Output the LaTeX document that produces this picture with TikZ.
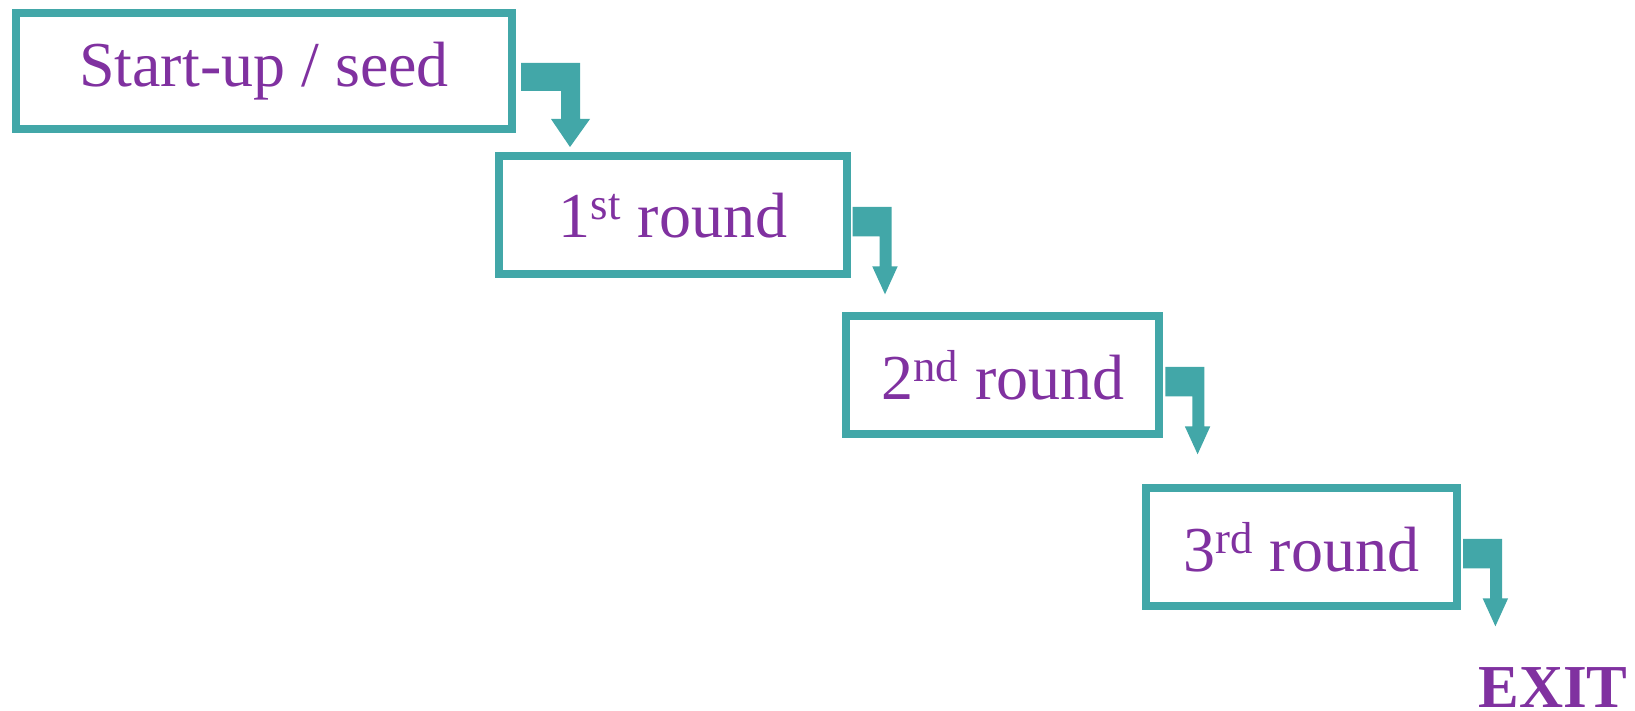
\documentclass[tikz,border=0pt]{standalone}
\usepackage{fontspec}
\setmainfont{Liberation Serif}
\usetikzlibrary{positioning}
\definecolor{stageteal}{HTML}{42A7A8}
\definecolor{stagepurple}{HTML}{8031A0}
\tikzset{stage box/.style={draw=stageteal, line width=4pt, text=stagepurple, font=\fontsize{32}{38}\selectfont, minimum height=59pt, inner sep=0pt}}
\tikzset{exit label/.style={text=stagepurple, font=\fontsize{30.5}{36}\selectfont\bfseries, inner sep=0pt}}
% elbow arrows, drawn from the east side of a box
\tikzset{pics/big elbow/.style={code={
  \fill[stageteal] (5,-8) -- (64,-8) -- (64,48) -- (74,48) -- (54,76) -- (35,48) -- (45,48) -- (45,20) -- (5,20) -- cycle;}}}
\tikzset{pics/small elbow/.style={code={
  \fill[stageteal] (2,-8.5) -- (41,-8.5) -- (41,51) -- (47,51) -- (34.3,79) -- (21.5,51) -- (29,51) -- (29,21) -- (2,21) -- cycle;}}}

\begin{document}
\begin{tikzpicture}[x=0.5pt, y=-0.5pt]
	\useasboundingbox (0,0) rectangle (1635,711);

	\node[stage box, minimum width=248pt, minimum height=58pt] (s1) at (264,71) {Start-up / seed};
	\node[stage box, minimum width=173.7pt, below right=9.65pt and -10.35pt of s1] (s2) {1\textsuperscript{st} round};
	\node[stage box, minimum width=156.5pt, below right=17pt and -4.2pt of s2] (s3) {2\textsuperscript{nd} round};
	\node[stage box, minimum width=155.7pt, below right=23pt and -10.8pt of s3] (s4) {3\textsuperscript{rd} round};
	\node[exit label, anchor=base west] (exit) at (1478,707) {EXIT};

	\pic at (s1.east) {big elbow};
	\pic at (s2.east) {small elbow};
	\pic at (s3.east) {small elbow};
	\pic at (s4.east) {small elbow};
\end{tikzpicture}
\end{document}
